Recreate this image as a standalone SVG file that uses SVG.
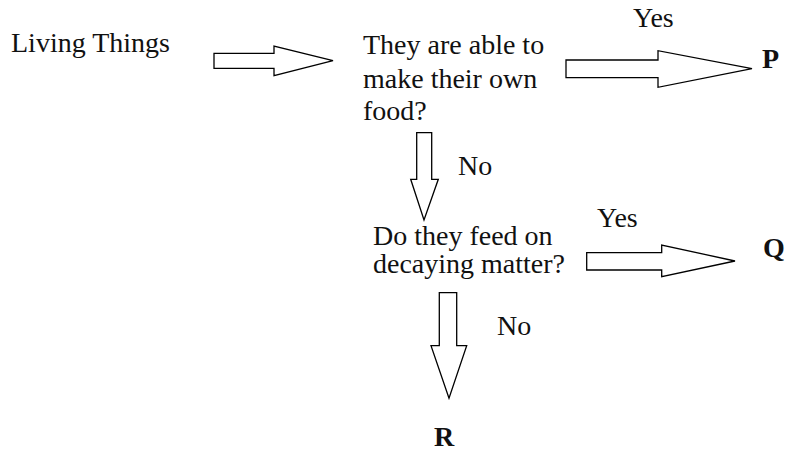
<svg xmlns="http://www.w3.org/2000/svg" width="788" height="452" viewBox="0 0 788 452">
<style>
.t{font-family:"Liberation Serif","Times New Roman",serif;font-size:28px;fill:#111}
.b{font-weight:bold}
.ar{fill:#fff;stroke:#000;stroke-width:1.3;stroke-linejoin:miter}
</style>
<rect width="788" height="452" fill="#fff"/>
<g id="connectors">
<polygon class="ar" points="214,53.3 274,53.3 274,46 333,60.7 274,75.7 274,68.3 214,68.3"/>
<polygon class="ar" points="566,60 658,60 658,50.7 752,68.7 658,87.3 658,77.7 566,77.7"/>
<polygon class="ar" points="416.7,132.7 431.7,132.7 431.7,179.3 438.3,179.3 424,220 410.7,179.3 416.7,179.3"/>
<polygon class="ar" points="586.7,252.7 661.7,252.7 661.7,245 735,261 661.7,276.7 661.7,270 586.7,270"/>
<polygon class="ar" points="439.3,292.7 456.7,292.7 456.7,345.7 466.7,345.7 449,398.3 431,345.7 439.3,345.7"/>
<text class="t" x="633" y="27">Yes</text>
<text class="t" x="458" y="175">No</text>
<text class="t" x="597" y="227">Yes</text>
<text class="t" x="497" y="335">No</text>
</g>
<g id="living"><text class="t" x="11" y="52">Living Things</text></g>
<g id="q1"><text class="t" x="363" y="54">They are able to</text><text class="t" x="363" y="88">make their own</text><text class="t" x="363" y="120">food?</text></g>
<g id="q2"><text class="t" x="373" y="245">Do they feed on</text><text class="t" x="373" y="273">decaying matter?</text></g>
<g id="P"><text class="t b" x="762" y="68">P</text></g>
<g id="Q"><text class="t b" x="763" y="257">Q</text></g>
<g id="R"><text class="t b" x="434" y="446">R</text></g>
</svg>
